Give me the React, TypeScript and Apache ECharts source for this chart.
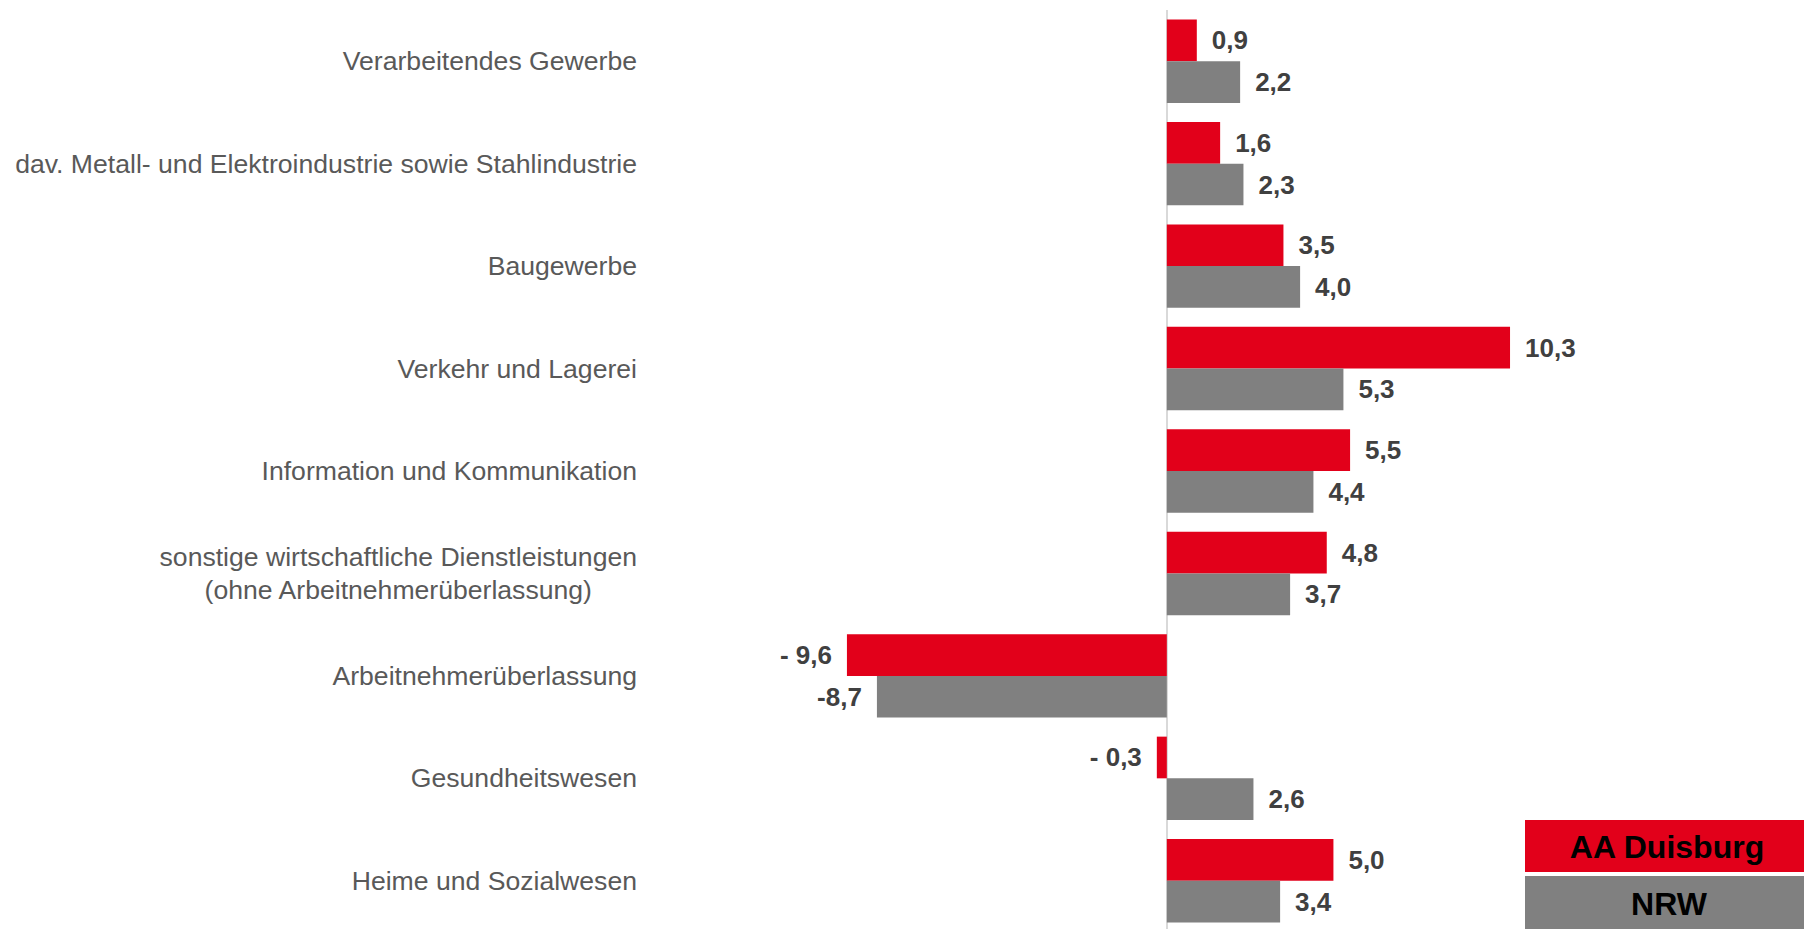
import React, { useEffect, useRef } from "react";
import * as echarts from "echarts";

const categories: string[] = [
  "Verarbeitendes Gewerbe",
  "dav. Metall- und Elektroindustrie sowie Stahlindustrie",
  "Baugewerbe",
  "Verkehr und Lagerei",
  "Information und Kommunikation",
  "sonstige wirtschaftliche Dienstleistungen\n(ohne Arbeitnehmerüberlassung)",
  "Arbeitnehmerüberlassung",
  "Gesundheitswesen",
  "Heime und Sozialwesen",
];

const duisburgValues: number[] = [0.9, 1.6, 3.5, 10.3, 5.5, 4.8, -9.6, -0.3, 5.0];
const nrwValues: number[] = [2.2, 2.3, 4.0, 5.3, 4.4, 3.7, -8.7, 2.6, 3.4];

const seriesNames: string[] = ["AA Duisburg", "NRW"];

const RED = "#E2001A";
const GRAY = "#808080";
const FONT = "'Liberation Sans', Arial, sans-serif";
const CAT_SIZE = 26.6;

function fmt(v: number, spaced: boolean): string {
  const s = Math.abs(v).toFixed(1).replace(".", ",");
  if (v < 0) return (spaced ? "- " : "-") + s;
  return s;
}

function measure(text: string, font: string): number {
  const c = document.createElement("canvas");
  const ctx = c.getContext("2d");
  if (!ctx) return text.length * 12;
  ctx.font = font;
  return ctx.measureText(text).width;
}

export default function App() {
  const ref = useRef<HTMLDivElement>(null);

  useEffect(() => {
    if (!ref.current) return;
    const chart = echarts.init(ref.current, undefined, { renderer: "svg" });

    const multi = categories.find((c) => c.includes("\n")) || "";
    const blockW = Math.max(
      ...multi.split("\n").map((l) => measure(l, `${CAT_SIZE}px ${FONT}`)),
      10
    );

    const makeData = (vals: number[]) =>
      vals.map((v) => ({
        value: v,
        label: { position: v < 0 ? "left" : "right" },
      }));

    const labelCommon = {
      show: true,
      distance: 15,
      fontSize: 26,
      fontWeight: "bold",
      color: "#404040",
      fontFamily: FONT,
    };

    chart.setOption({
      animation: false,
      backgroundColor: "#ffffff",
      grid: {
        left: 667,
        right: 204,
        top: 10,
        bottom: -3,
        containLabel: false,
        outerBoundsMode: "none",
      },
      xAxis: {
        type: "value",
        min: -15,
        max: 13,
        show: false,
        splitLine: { show: false },
      },
      yAxis: {
        type: "category",
        data: categories,
        inverse: true,
        axisLine: { show: false },
        axisTick: { show: false },
        splitLine: { show: false },
        axisLabel: {
          margin: 30,
          fontSize: CAT_SIZE,
          color: "#595959",
          fontFamily: FONT,
          lineHeight: 33,
          formatter: (v: string) =>
            v.includes("\n")
              ? v
                  .split("\n")
                  .map((l) => `{c|${l}}`)
                  .join("\n")
              : v,
          rich: {
            c: {
              width: blockW,
              align: "center",
              fontSize: CAT_SIZE,
              color: "#595959",
              fontFamily: FONT,
              lineHeight: 33,
            },
          },
        },
      },
      series: [
        {
          name: seriesNames[0],
          type: "bar",
          data: makeData(duisburgValues),
          itemStyle: { color: RED },
          barGap: "0%",
          barCategoryGap: "18.6%",
          label: {
            ...labelCommon,
            formatter: (p: any) => fmt(p.value, true),
          },
          markLine: {
            silent: true,
            symbol: ["none", "none"],
            label: { show: false },
            lineStyle: { color: "#d9d9d9", width: 2, type: "solid" },
            data: [{ xAxis: 0 }],
            z: 1,
          },
        },
        {
          name: seriesNames[1],
          type: "bar",
          data: makeData(nrwValues),
          itemStyle: { color: GRAY },
          barGap: "0%",
          barCategoryGap: "18.6%",
          label: {
            ...labelCommon,
            formatter: (p: any) => fmt(p.value, false),
          },
        },
      ],
      graphic: [
        {
          type: "rect",
          shape: { x: 1525, y: 820, width: 279, height: 52 },
          style: { fill: RED },
        },
        {
          type: "text",
          x: 1667,
          y: 847,
          style: {
            text: seriesNames[0],
            fill: "#000000",
            font: `bold 32px ${FONT}`,
            textAlign: "center",
            textVerticalAlign: "middle",
          },
        },
        {
          type: "rect",
          shape: { x: 1525, y: 876, width: 279, height: 53 },
          style: { fill: GRAY },
        },
        {
          type: "text",
          x: 1669,
          y: 904,
          style: {
            text: seriesNames[1],
            fill: "#000000",
            font: `bold 32px ${FONT}`,
            textAlign: "center",
            textVerticalAlign: "middle",
          },
        },
      ],
    });

    return () => {
      chart.dispose();
    };
  }, []);

  return (
    <div
      ref={ref}
      style={{ position: "fixed", left: 0, top: 0, width: 1804, height: 929 }}
    />
  );
}
